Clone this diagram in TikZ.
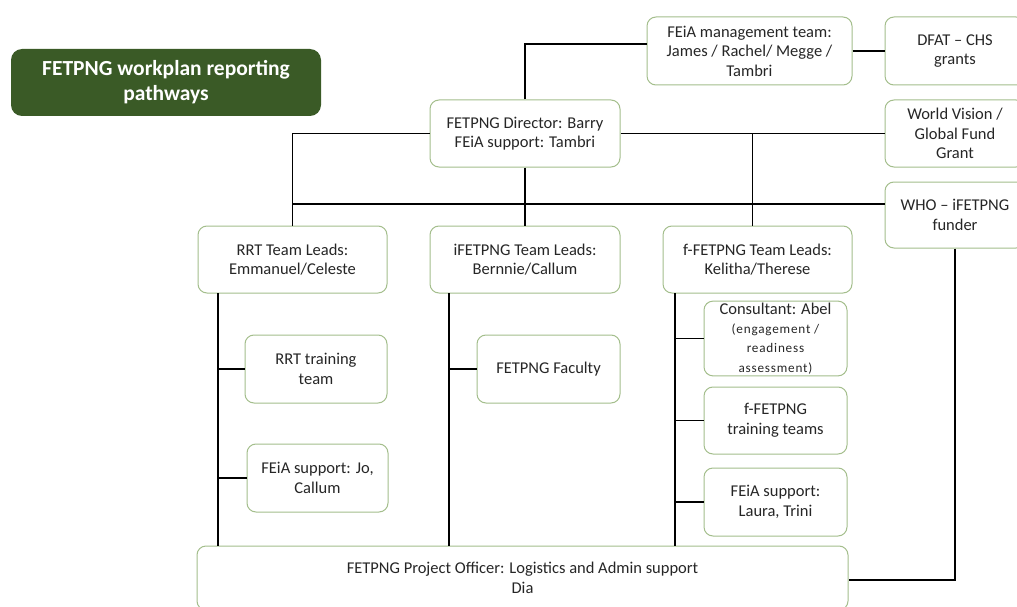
\documentclass[tikz,border=0pt]{standalone}
\usepackage{fontspec}
\setmainfont{Carlito}
\definecolor{boxgreen}{HTML}{A4BE8C}
\definecolor{titlegreen}{HTML}{3A5A26}
\tikzset{
  orgbox/.style={draw=boxgreen, line width=1pt, rounded corners=9pt, fill=white,
    align=center, inner sep=2pt, text=black!85,
    font=\fontsize{16.5}{19.5}\selectfont},
  link/.style={draw=black, line width=1.3pt},
}
\newcommand{\smalltxt}{\addfontfeature{LetterSpace=6}\fontsize{13.2}{15.7}\selectfont}
\begin{document}
\begin{tikzpicture}[x=1pt,y=-1pt]
\useasboundingbox (0,0) rectangle (1017,607);
\fill[white] (0,0) rectangle (1017,607);
\clip (0,0) rectangle (1017,607);

% title
\node[fill=titlegreen, rounded corners=11pt, minimum width=310, minimum height=67,
  align=center, text=white, font=\bfseries\fontsize{21.5}{25}\selectfont]
  (title) at (166,82.5) {FETPNG workplan reporting\\pathways};

% nodes
\node[orgbox, minimum width=190, minimum height=67] (dir) at (525,133.5)
  {FETPNG Director: Barry\\FEiA support: Tambri};
\node[orgbox, minimum width=205, minimum height=68] (mgmt) at (749.5,51)
  {FEiA management team:\\James / Rachel/ Megge /\\Tambri};
\node[orgbox, minimum width=140, minimum height=68] (dfat) at (955,51)
  {DFAT -- CHS\\grants};
\node[orgbox, minimum width=140, minimum height=67] (wv) at (955,133.5)
  {World Vision /\\Global Fund\\Grant};
\node[orgbox, minimum width=140, minimum height=66] (who) at (955,215)
  {WHO -- iFETPNG\\funder};

\node[orgbox, minimum width=189, minimum height=67] (rrt) at (292.5,259.5)
  {RRT Team Leads:\\Emmanuel/Celeste};
\node[orgbox, minimum width=190, minimum height=67] (ifet) at (525,259.5)
  {iFETPNG Team Leads:\\Bernnie/Callum};
\node[orgbox, minimum width=189, minimum height=67] (ffet) at (757.5,259.5)
  {f-FETPNG Team Leads:\\Kelitha/Therese};

\node[orgbox, minimum width=142, minimum height=68] (rrttrain) at (316,369)
  {RRT training\\team};
\node[orgbox, minimum width=141, minimum height=68] (feiajo) at (317.5,478)
  {FEiA support: Jo,\\Callum};
\node[orgbox, minimum width=143, minimum height=68] (faculty) at (548.5,369)
  {FETPNG Faculty};
\node[orgbox, minimum width=143, minimum height=69] (consult) at (775.5,338.5)
  {Consultant: Abel\\[-1pt]{\smalltxt (engagement /}\\{\smalltxt readiness}\\{\smalltxt assessment)}};
\node[orgbox, minimum width=143, minimum height=67] (ftrain) at (775.5,420.5)
  {f-FETPNG\\training teams};
\node[orgbox, minimum width=143, minimum height=68] (laura) at (775.5,502)
  {FEiA support:\\Laura, Trini};

\node[orgbox, minimum width=651, minimum height=64] (po) at (522.5,578)
  {FETPNG Project Officer: Logistics and Admin support\\Dia};

% helper coordinates
\coordinate (wj) at (293,204);
\coordinate (rv) at (218,293);
\coordinate (iv) at (449,293);
\coordinate (fv) at (675,293);

% connectors
\draw[link] (dir.north) |- ([yshift=7pt]mgmt.west);
\draw[link] (mgmt.east) -- (dfat.west);
\draw[link] (dir.west) -| (rrt.north);
\draw[link] (dir.east) -- (wv.west);
\draw[link] ([xshift=-5pt]ffet.north) -- ([xshift=-5pt]ffet.north |- dir.east);
\draw[link] (dir.south) -- (ifet.north);
\draw[link] (wj) -- (who.west |- wj);

\draw[link] (rv) -- (rv |- po.north);
\draw[link] (rv |- rrttrain.west) -- (rrttrain.west);
\draw[link] (rv |- feiajo.west) -- (feiajo.west);

\draw[link] (iv) -- (iv |- po.north);
\draw[link] (iv |- faculty.west) -- (faculty.west);

\draw[link] (fv) -- (fv |- po.north);
\draw[link] (fv |- consult.west) -- (consult.west);
\draw[link] (fv |- ftrain.west) -- (ftrain.west);
\draw[link] (fv |- laura.west) -- (laura.west);

\draw[link] (who.south) |- ([yshift=-2pt]po.east);
\end{tikzpicture}
\end{document}
